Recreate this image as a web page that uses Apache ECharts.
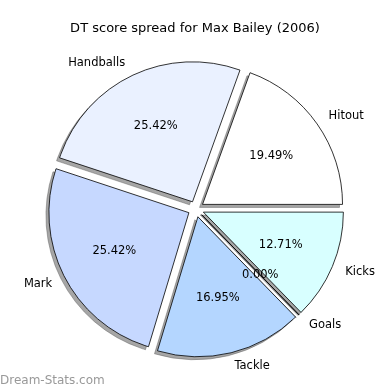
<!DOCTYPE html>
<html><head><meta charset="utf-8">
<script src="https://cdn.jsdelivr.net/npm/echarts@6/dist/echarts.min.js"></script>
<style>html,body{margin:0;padding:0;background:#fff}#c{width:390px;height:390px}</style>
</head><body><div id="c"></div>
<script>
var categories = ['Hitout', 'Handballs', 'Mark', 'Tackle', 'Goals', 'Kicks'];
var values = [23, 30, 30, 20, 0, 15];
var colors = ['#ffffff', '#eaf1ff', '#c6d8ff', '#b4d6ff', '#d0e8ff', '#d8ffff'];
var labelAlign = ['left', 'right', 'right', 'left', 'left', 'left'];

var total = values.reduce(function (a, b) { return a + b; }, 0);
var R = 140, CX = 196, CY = 209, OFF = 8, SH = 3;
var font = 'DejaVu Sans';

function mk(fn) {
  return categories.map(function (n, i) { return fn(n, i); });
}
function base(extra) {
  var s = {
    type: 'pie', center: [CX, CY], radius: [0, R],
    startAngle: 0, clockwise: false,
    selectedMode: 'multiple', selectedOffset: OFF,
    emphasis: {disabled: true},
    label: {show: false}, labelLine: {show: false}
  };
  for (var k in extra) s[k] = extra[k];
  return s;
}

var chart = echarts.init(document.getElementById('c'), null, {renderer: 'canvas'});
chart.setOption({
  animation: false,
  title: {
    text: 'DT score spread for Max Bailey (2006)',
    left: 'center', top: 17,
    textStyle: {fontFamily: font, fontSize: 13, fontWeight: 'normal', color: '#000'}
  },
  graphic: [{
    type: 'text', left: 0, bottom: 3,
    style: {text: 'Dream-Stats.com', fontFamily: font, fontSize: 12, fill: '#999'}
  }],
  series: [
    base({
      center: [CX - SH, CY + SH], silent: true,
      itemStyle: {color: 'rgba(77,77,77,0.5)', borderColor: 'rgba(77,77,77,0.5)', borderWidth: 0.8},
      data: mk(function (n, i) { return {name: n, value: values[i], selected: true}; })
    }),
    base({
      itemStyle: {borderColor: '#000', borderWidth: 0.8},
      data: mk(function (n, i) {
        return {name: n, value: values[i], selected: true, itemStyle: {color: colors[i]}};
      })
    }),
    base({
      radius: [0, 2 * (0.6 * R - 3)], silent: true,
      itemStyle: {color: 'rgba(0,0,0,0)', borderWidth: 0},
      label: {show: true, position: 'inside', fontFamily: font, fontSize: 11.5, color: '#000',
        offset: [0, 2],
        formatter: function (p) { return (p.value / total * 100).toFixed(2) + '%'; }},
      data: mk(function (n, i) { return {name: n, value: values[i], selected: true}; })
    }),
    base({
      radius: [0, 2 * (1.1 * R - 3)], silent: true,
      itemStyle: {color: 'rgba(0,0,0,0)', borderWidth: 0},
      label: {show: true, position: 'inside', fontFamily: font, fontSize: 11.5, color: '#000',
        offset: [0, 4],
        rich: {v: {fontFamily: font, fontSize: 11.5, color: '#000'},
               h: {fontFamily: font, fontSize: 11.5, color: 'rgba(0,0,0,0)'}},
        formatter: function (p) {
          var i = p.dataIndex;
          return labelAlign[i] === 'left'
            ? '{h|' + p.name + '}{v|' + p.name + '}'
            : '{v|' + p.name + '}{h|' + p.name + '}';
        }},
      data: mk(function (n, i) { return {name: n, value: values[i], selected: true}; })
    })
  ]
});
</script></body></html>
